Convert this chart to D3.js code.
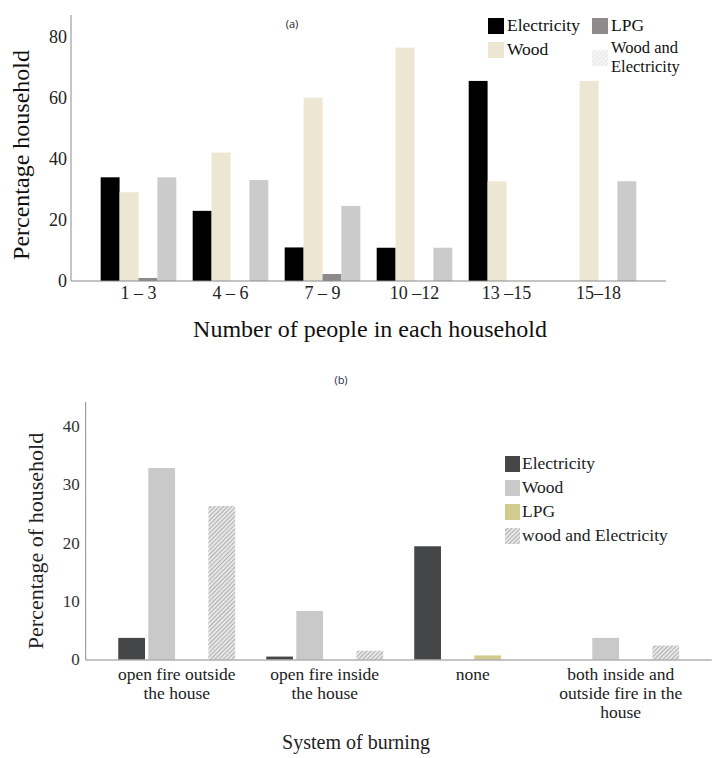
<!DOCTYPE html>
<html>
<head>
<meta charset="utf-8">
<script src="https://cdn.jsdelivr.net/npm/d3@7"></script>
<style>
  html, body { margin: 0; padding: 0; background: #fff; }
  svg { display: block; }
</style>
</head>
<body>
<svg id="chart" width="715" height="758" font-family="Liberation Serif, DejaVu Serif, serif"></svg>
<script>
// ---------- Data (a) ----------
const catsA = ["1 – 3", "4 – 6", "7 – 9", "10 –12", "13 –15", "15–18"];
const seriesA = ["Electricity", "Wood", "LPG", "Wood and Electricity"];
const elecA = [34.0, 23.0, 11.0, 10.9, 65.6, 0];
const woodA = [29.1, 42.1, 60.1, 76.5, 32.7, 65.6];
const lpgA  = [1.0, 0, 2.3, 0, 0, 0];
const weA   = [34.0, 33.1, 24.6, 10.9, 0, 32.7];
const ticksA = [0, 20, 40, 60, 80];

// ---------- Data (b) ----------
const catsB = [
  ["open fire outside", "the house"],
  ["open fire inside", "the house"],
  ["none"],
  ["both inside and", "outside fire in the", "house"]
];
const seriesB = ["Electricity", "Wood", "LPG", "wood and Electricity"];
const elecB = [3.7, 0.5, 19.4, 0];
const woodB = [32.8, 8.3, 0, 3.7];
const lpgB  = [0, 0, 0.7, 0];
const weB   = [26.3, 1.5, 0, 2.4];
const ticksB = [0, 10, 20, 30, 40];

const SERIF = "Liberation Serif, DejaVu Serif, serif";
const SANS = "Open Sans, DejaVu Sans, sans-serif";

const svg = d3.select("#chart");
const defs = svg.append("defs");

// hatch patterns
function hatch(id, bg, line, size, w) {
  const p = defs.append("pattern").attr("id", id)
    .attr("patternUnits", "userSpaceOnUse").attr("width", size).attr("height", size)
    .attr("patternTransform", "rotate(-45)");
  p.append("rect").attr("width", size).attr("height", size).attr("fill", bg);
  p.append("line").attr("x1", 0).attr("y1", 0).attr("x2", size).attr("y2", 0)
    .attr("stroke", line).attr("stroke-width", w);
}
hatch("hatchB", "#e6e6e6", "#9a9a9a", 3, 1.4);
hatch("hatchLegA", "#f6f6f6", "#dddddd", 3, 1.2);

// ================= Chart (a) =================
const tableA = catsA.map((c, i) => ({cat: c, vals: [elecA[i], woodA[i], lpgA[i], weA[i]]}));
const colorsA = ["#000000", "#ece6d2", "#8e8a8b", "#cbcbcb"];

const xA = d3.scaleBand().domain(catsA).range([71, 666]).paddingInner(0.178).paddingOuter(0.3225);
const xAin = d3.scaleBand().domain(seriesA).range([0, xA.bandwidth()]).padding(0);
const yA = d3.scaleLinear().domain([0, 80]).range([281, 37]);

const gA = svg.append("g");
gA.selectAll("g.grp").data(tableA).join("g")
  .attr("transform", d => `translate(${xA(d.cat)},0)`)
  .selectAll("rect").data(d => d.vals.map((v, j) => ({v, s: seriesA[j], j})))
  .join("rect")
  .attr("x", d => xAin(d.s))
  .attr("width", xAin.bandwidth())
  .attr("y", d => yA(d.v))
  .attr("height", d => yA(0) - yA(d.v))
  .attr("fill", d => colorsA[d.j]);

// axes (a)
const axAy = d3.axisLeft(yA).tickValues(ticksA).tickSize(0).tickPadding(4);
const gAy = gA.append("g").attr("transform", "translate(71,0)").call(axAy)
  .attr("font-family", SERIF);
gAy.select(".domain").remove();
gAy.selectAll("text").attr("font-family", SERIF).attr("font-size", 18).attr("fill", "#222");
gA.append("line").attr("x1", 71).attr("x2", 71).attr("y1", 15).attr("y2", 281)
  .attr("stroke", "#8a8a8a").attr("stroke-width", 1);

const axAx = d3.axisBottom(xA).tickSize(0).tickPadding(5);
const gAx = gA.append("g").attr("transform", "translate(0,281)").call(axAx)
  .attr("font-family", SERIF);
gAx.select(".domain").remove();
gAx.selectAll("text").attr("font-family", SERIF).attr("font-size", 18).attr("fill", "#222");
gA.append("line").attr("x1", 71).attr("x2", 666).attr("y1", 281).attr("y2", 281)
  .attr("stroke", "#8a8a8a").attr("stroke-width", 1);

gA.append("text").attr("transform", "translate(29,155) rotate(-90)")
  .attr("font-family", SERIF)
  .attr("text-anchor", "middle").attr("font-size", 24).attr("fill", "#111")
  .text("Percentage household");
gA.append("text").attr("x", 370).attr("y", 337).attr("text-anchor", "middle")
  .attr("font-family", SERIF)
  .attr("font-size", 24).attr("fill", "#111")
  .text("Number of people in each household");
gA.append("text").attr("x", 292).attr("y", 28).attr("text-anchor", "middle")
  .attr("font-family", SANS)
  .attr("font-size", 11).attr("fill", "#222")
  .text("(a)");

// legend (a)
const legA = [
  {s: 0, x: 488, y: 18, lines: ["Electricity"]},
  {s: 2, x: 592, y: 18, lines: ["LPG"]},
  {s: 1, x: 488, y: 42, lines: ["Wood"]},
  {s: 3, x: 592, y: 50, lines: ["Wood and", "Electricity"]}
];
legA.forEach(d => {
  gA.append("rect").attr("x", d.x).attr("y", d.y).attr("width", 16).attr("height", 16)
    .attr("fill", d.s === 3 ? "url(#hatchLegA)" : colorsA[d.s]);
  d.lines.forEach((l, k) => {
    gA.append("text").attr("x", d.x + 19)
      .attr("y", (d.s === 3 ? 53 : d.y + 13) + k * 19)
      .attr("font-family", SERIF)
      .attr("font-size", d.s === 3 ? 16.5 : 17.5).attr("fill", "#111").text(l);
  });
});

// ================= Chart (b) =================
const tableB = catsB.map((c, i) => ({cat: c.join(" "), lines: c, vals: [elecB[i], woodB[i], lpgB[i], weB[i]]}));
const colorsB = ["#454647", "#c9c9c9", "#d2cb8e", "url(#hatchB)"];

const xB = d3.scaleBand().domain(tableB.map(d => d.cat)).range([85.7, 711.7]).paddingInner(0.21).paddingOuter(0.22);
const xBin = d3.scaleBand().domain(seriesB).range([0, xB.bandwidth()]).paddingInner(0.11).paddingOuter(0);
const yB = d3.scaleLinear().domain([0, 40]).range([659.5, 426]);

const gB = svg.append("g");
gB.selectAll("g.grp").data(tableB).join("g")
  .attr("transform", d => `translate(${xB(d.cat)},0)`)
  .selectAll("rect").data(d => d.vals.map((v, j) => ({v, s: seriesB[j], j})).filter(e => e.v > 0))
  .join("rect")
  .attr("x", d => xBin(d.s))
  .attr("width", xBin.bandwidth())
  .attr("y", d => yB(d.v))
  .attr("height", d => yB(0) - yB(d.v))
  .attr("fill", d => colorsB[d.j]);

const axBy = d3.axisLeft(yB).tickValues(ticksB).tickSize(0).tickPadding(6);
const gBy = gB.append("g").attr("transform", "translate(85.7,0)").call(axBy)
  .attr("font-family", SERIF);
gBy.select(".domain").remove();
gBy.selectAll("text").attr("font-family", SERIF).attr("font-size", 17).attr("fill", "#333");
gB.append("line").attr("x1", 85.7).attr("x2", 85.7).attr("y1", 402).attr("y2", 660)
  .attr("stroke", "#8a8a8a").attr("stroke-width", 1);
gB.append("line").attr("x1", 85.7).attr("x2", 711.7).attr("y1", 660).attr("y2", 660)
  .attr("stroke", "#8a8a8a").attr("stroke-width", 1);

const axBx = d3.axisBottom(xB).tickSize(0).tickFormat(() => "");
const gBx = gB.append("g").attr("transform", "translate(0,660)").call(axBx)
  .attr("font-family", SERIF);
gBx.select(".domain").remove();
gBx.selectAll(".tick").each(function(d) {
  const row = tableB.find(r => r.cat === d);
  const t = d3.select(this).append("text").attr("text-anchor", "middle")
    .attr("font-family", SERIF)
    .attr("font-size", 17.5).attr("fill", "#222")
    .attr("y", 20);
  row.lines.forEach((l, k) => t.append("tspan").attr("x", 0).attr("dy", k ? 19 : 0).text(l));
});

gB.append("text").attr("transform", "translate(43,541) rotate(-90)")
  .attr("font-family", SERIF)
  .attr("text-anchor", "middle").attr("font-size", 22).attr("fill", "#222")
  .text("Percentage  of  household");
gB.append("text").attr("x", 356).attr("y", 749).attr("text-anchor", "middle")
  .attr("font-family", SERIF)
  .attr("font-size", 20).attr("fill", "#222")
  .text("System of burning");
gB.append("text").attr("x", 341).attr("y", 384).attr("text-anchor", "middle")
  .attr("font-family", SANS)
  .attr("font-size", 11).attr("fill", "#1f2a48")
  .text("(b)");

// legend (b)
seriesB.forEach((s, j) => {
  const y0 = 456 + j * 24;
  gB.append("rect").attr("x", 505).attr("y", y0).attr("width", 15).attr("height", 16)
    .attr("fill", colorsB[j]);
  gB.append("text").attr("x", 522).attr("y", y0 + 13)
    .attr("font-family", SERIF)
    .attr("font-size", 17.5).attr("fill", "#222").text(s);
});
</script>
</body>
</html>
